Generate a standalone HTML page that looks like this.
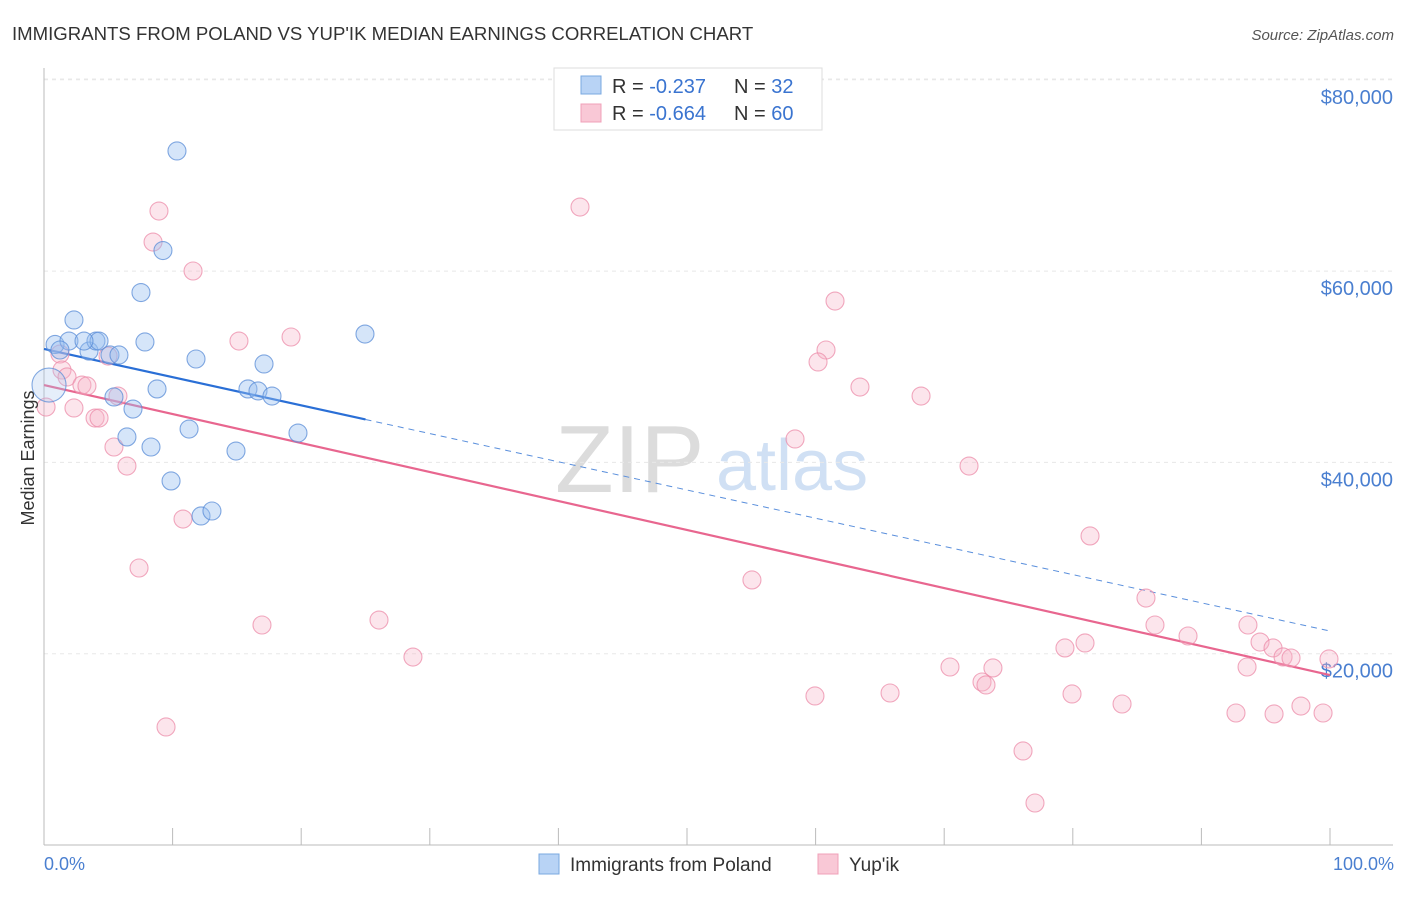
<!DOCTYPE html>
<html><head><meta charset="utf-8"><style>
body{margin:0;background:#fff;font-family:"Liberation Sans",sans-serif;}
svg text{font-family:"Liberation Sans",sans-serif;}
</style></head><body>
<svg id="chart" width="1406" height="892">
<text x="12" y="40" font-size="18.6" fill="#333">IMMIGRANTS FROM POLAND VS YUP'IK MEDIAN EARNINGS CORRELATION CHART</text>
<text x="1394" y="40" font-size="15" fill="#555" font-style="italic" text-anchor="end">Source: ZipAtlas.com</text>
<text x="555" y="492" font-size="96" fill="#dcdcdc" font-family="Liberation Serif">ZIP</text>
<text x="716" y="490" font-size="72" fill="#d0e0f4">atlas</text>
<g id="grid"></g><g id="axes"></g><g id="lines"></g><g id="points"></g>
<text transform="translate(34,458) rotate(-90)" font-size="18" fill="#333" text-anchor="middle">Median Earnings</text>
<text x="44" y="870" font-size="18" fill="#4a7fd0">0.0%</text>
<text x="1394" y="870" font-size="18" fill="#4a7fd0" text-anchor="end">100.0%</text>
<g>
<rect x="554" y="68" width="268" height="62" fill="#fff" stroke="#ddd"/>
<rect x="581" y="76" width="20" height="18" fill="#b8d3f5" stroke="#7aa8e0"/>
<rect x="581" y="104" width="20" height="18" fill="#f9c8d6" stroke="#f0a0b8"/>
<text x="612" y="93" font-size="20" fill="#333">R = <tspan fill="#3a74d0">-0.237</tspan></text>
<text x="734" y="93" font-size="20" fill="#333">N = <tspan fill="#3a74d0">32</tspan></text>
<text x="612" y="120" font-size="20" fill="#333">R = <tspan fill="#3a74d0">-0.664</tspan></text>
<text x="734" y="120" font-size="20" fill="#333">N = <tspan fill="#3a74d0">60</tspan></text>
</g>
<g>
<rect x="539" y="854" width="20" height="20" fill="#b8d3f5" stroke="#7aa8e0"/>
<text x="570" y="871" font-size="19" fill="#333">Immigrants from Poland</text>
<text x="849" y="871" font-size="19" fill="#333">Yup'ik</text>
<rect x="818" y="854" width="20" height="20" fill="#f9c8d6" stroke="#f0a0b8"/>
</g>
</svg>
<script>
const yTicks=[20000,40000,60000,80000];
const yTickLabels=["$20,000","$40,000","$60,000","$80,000"];
const xTicks=[0,10,20,30,40,50,60,70,80,90,100];
const blueX=[10.34,9.25,7.54,0.86,2.33,1.94,3.50,4.04,4.28,7.85,5.13,5.83,11.82,17.11,24.96,0.39,5.44,8.79,15.86,16.64,17.73,6.92,11.28,19.75,6.45,8.32,14.93,9.88,12.21,13.06,1.24,3.11];
const blueY=[72560,62150,57760,52330,54890,52690,51640,52690,52690,52590,51230,51230,50810,50290,53420,48090,46840,47680,47680,47470,46940,45580,43490,43070,42660,41610,41190,38060,34400,34920,51750,52690];
const pinkX=[8.94,41.68,8.48,11.59,61.51,15.16,19.21,60.81,60.19,63.45,68.20,1.24,1.40,1.79,2.95,3.34,0.16,2.33,3.97,4.28,5.44,6.45,4.98,5.75,10.81,7.39,16.95,26.05,28.69,9.49,58.40,71.93,55.05,81.34,85.69,86.39,88.96,93.62,94.56,95.57,96.35,96.97,99.92,80.95,79.39,70.45,73.79,72.94,73.25,59.95,65.79,79.94,83.83,92.69,95.65,97.74,99.46,76.13,77.06,93.55];
const pinkY=[66280,66700,63040,60010,56870,52690,53110,51750,50500,47880,46940,51330,49660,48930,48090,47990,45790,45690,44640,44640,41610,39620,51120,46940,34080,28960,23000,23520,19650,12340,42450,39620,27710,32310,25820,23000,21850,23000,21220,20600,19660,19550,19450,21120,20600,18610,18510,17040,16730,15580,15890,15790,14740,13800,13700,14530,13800,9830,4390,18610];
const blueTrend=[51860,22370];
const pinkTrend=[48090,17770];
const NS="http://www.w3.org/2000/svg";
const X=p=>44+p*12.86;
const Y=v=>845-v*191.3/20000;
function mk(tag,attrs,parent){const e=document.createElementNS(NS,tag);for(const k in attrs)e.setAttribute(k,attrs[k]);document.getElementById(parent).appendChild(e);return e;}
yTicks.forEach((t,i)=>{
 const g=mk('line',{x1:44,x2:1393,y1:Y(t),y2:Y(t),stroke:'#e8e8e8','stroke-dasharray':'4,4'},'grid');
 
 
 const l=mk('text',{x:1393,y:Y(t)+24,'font-size':20,fill:'#4a7fd0','text-anchor':'end'},'grid');
 l.textContent=yTickLabels[i];
 
 
});
const topGrid=mk('line',{x1:44,x2:1393,y1:79,y2:79,stroke:'#e8e8e8','stroke-dasharray':'4,4'},'grid');


const ya=mk('line',{x1:44,x2:44,y1:68,y2:845,stroke:'#bbb'},'axes');


const xa=mk('line',{x1:44,x2:1393,y1:845,y2:845,stroke:'#bbb'},'axes');


xTicks.forEach(t=>{
 const k=mk('line',{x1:X(t),x2:X(t),y1:828,y2:845,stroke:'#bbb'},'axes');
 
 
});
function pt(x,y,r,fill,stroke,name){
 const c=mk('circle',{cx:X(x),cy:Y(y),r:r,fill:fill,stroke:stroke,'stroke-width':1.1},'points');
 
 
}
pinkX.forEach((x,i)=>pt(x,pinkY[i],9,'rgba(246,180,200,0.35)','rgba(236,140,170,0.75)','yupik-point'));
blueX.forEach((x,i)=>pt(x,blueY[i],i===15?17:9,i===15?'rgba(170,200,240,0.3)':'rgba(150,190,240,0.4)','rgba(90,140,215,0.75)','poland-point'));
const bx=25;
const bMid=blueTrend[0]+(blueTrend[1]-blueTrend[0])*bx/100;
const b1=mk('line',{x1:X(0),y1:Y(blueTrend[0]),x2:X(bx),y2:Y(bMid),stroke:'#2a6fd6','stroke-width':2.2},'lines');


const b2=mk('line',{x1:X(bx),y1:Y(bMid),x2:X(100),y2:Y(blueTrend[1]),stroke:'#5a8fdc','stroke-width':1,'stroke-dasharray':'6,5'},'lines');


const p1=mk('line',{x1:X(0),y1:Y(pinkTrend[0]),x2:X(100),y2:Y(pinkTrend[1]),stroke:'#e8668f','stroke-width':2.2},'lines');


</script>
</body></html>
